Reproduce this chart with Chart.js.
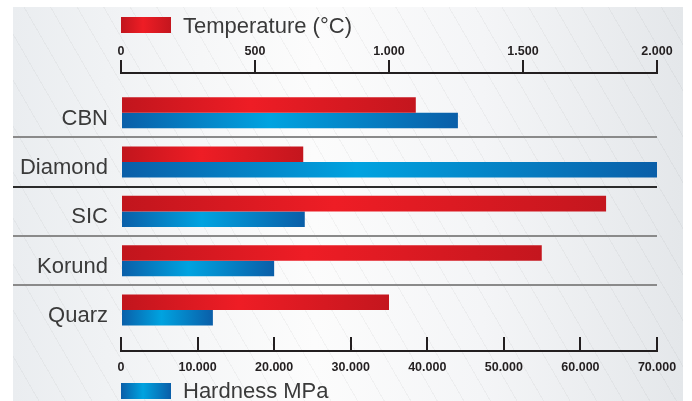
<!DOCTYPE html>
<html>
<head>
<meta charset="utf-8">
<title>Temperature and hardness</title>
<script src="https://cdn.jsdelivr.net/npm/chart.js@4.4.1/dist/chart.umd.min.js"></script>
<style>
  html, body { margin: 0; padding: 0; background: #fff; }
  #wrap { position: relative; width: 692px; height: 401px; overflow: hidden; }
  #bg {
    position: absolute; left: 13px; top: 7px; width: 670px; height: 394px;
    background:
      repeating-linear-gradient(60deg, rgba(0,0,0,0) 0 22px, rgba(0,0,0,0.035) 22px 23px),
      linear-gradient(90deg, #eaedf0 0%, #f6f7f8 28%, #fcfcfc 45%, #f4f5f7 70%, #e4e7ea 100%);
  }
  #box { position: absolute; left: 0; top: 0; width: 692px; height: 401px; }
</style>
</head>
<body>
<div id="wrap">
  <div id="bg"></div>
  <div id="box"><canvas id="hardnessChart"></canvas></div>
</div>
<script>
const categories = ['CBN', 'Diamond', 'SIC', 'Korund', 'Quarz'];
const temperature = [1100, 680, 1810, 1570, 1000];
const hardness = [44000, 70000, 24000, 20000, 12000];
const tempTicks = [0, 500, 1000, 1500, 2000];
const hardTicks = [0, 10000, 20000, 30000, 40000, 50000, 60000, 70000];

const redStops = ['#c1151d', '#ee1d25', '#c4161e'];
const blueStops = ['#0a5ea8', '#00a3e0', '#0a5ea8'];

const tickFont = { family: "'Liberation Sans', Arial, sans-serif", size: 12.5, weight: 'bold' };
const labelFamily = "'Liberation Sans', Arial, sans-serif";
const ink = '#231f20';

// 1000 -> "1.000"
function fmt(v) {
  return String(v).replace(/\B(?=(\d{3})+(?!\d))/g, '.');
}

function barFill(ctx, stops) {
  const chart = ctx.chart;
  if (!chart.chartArea || !ctx.parsed) return stops[1];
  const scale = chart.scales[ctx.dataset.xAxisID];
  const x0 = scale.getPixelForValue(0);
  const x1 = scale.getPixelForValue(ctx.parsed.x);
  const g = chart.ctx.createLinearGradient(x0, 0, x1, 0);
  g.addColorStop(0, stops[0]);
  g.addColorStop(0.44, stops[1]);
  g.addColorStop(1, stops[2]);
  return g;
}

// x axes: fixed height, no extra room for edge labels
function fitX(height) {
  return s => {
    s.height = height;
    s.paddingLeft = 0;
    s.paddingRight = 0;
  };
}

const separators = {
  id: 'separators',
  beforeDatasetsDraw(chart) {
    const { ctx, scales: { y, xT } } = chart;
    ctx.save();
    ctx.lineWidth = 2;
    for (let i = 0; i < categories.length - 1; i++) {
      const py = Math.round(y.getPixelForValue(i + 0.5));
      ctx.strokeStyle = i === 1 ? '#2b2b2b' : '#8a8a8a';
      ctx.beginPath();
      ctx.moveTo(13, py);
      ctx.lineTo(xT.right, py);
      ctx.stroke();
    }
    ctx.restore();
  }
};

function drawKey(ctx, x, y, stops, text, baseline) {
  const g = ctx.createLinearGradient(x, 0, x + 50, 0);
  g.addColorStop(0, stops[0]);
  g.addColorStop(0.44, stops[1]);
  g.addColorStop(1, stops[2]);
  ctx.fillStyle = g;
  ctx.fillRect(x, y, 50, 16);
  ctx.fillStyle = '#3a3a3a';
  ctx.font = '22px ' + labelFamily;
  ctx.textAlign = 'left';
  ctx.textBaseline = 'alphabetic';
  ctx.fillText(text, x + 62, baseline);
}

const keys = {
  id: 'keys',
  afterDraw(chart) {
    const { ctx, scales: { xT } } = chart;
    ctx.save();
    drawKey(ctx, xT.left, 17, redStops, 'Temperature (°C)', 33);
    drawKey(ctx, xT.left, 383, blueStops, 'Hardness MPa', 398);
    ctx.restore();
  }
};

new Chart(document.getElementById('hardnessChart'), {
  type: 'bar',
  data: {
    datasets: [
      {
        label: 'Temperature (°C)',
        data: temperature.map((v, i) => ({ x: v, y: i })),
        xAxisID: 'xT',
        backgroundColor: ctx => barFill(ctx, redStops)
      },
      {
        label: 'Hardness MPa',
        data: hardness.map((v, i) => ({ x: v, y: i })),
        xAxisID: 'xH',
        backgroundColor: ctx => barFill(ctx, blueStops)
      }
    ]
  },
  options: {
    indexAxis: 'y',
    responsive: true,
    maintainAspectRatio: false,
    animation: false,
    barPercentage: 1,
    categoryPercentage: 0.63,
    layout: { padding: { top: 40, right: 35, bottom: 20, left: 0 } },
    plugins: { legend: { display: false }, tooltip: { enabled: false } },
    scales: {
      xT: {
        type: 'linear', position: 'top', min: 0, max: 2000,
        afterBuildTicks: s => { s.ticks = tempTicks.map(v => ({ value: v })); },
        afterFit: fitX(33),
        grid: { drawOnChartArea: false, tickLength: 13, color: ink, lineWidth: 2 },
        border: { color: ink, width: 2 },
        ticks: { padding: 1, font: tickFont, color: ink, maxRotation: 0, autoSkip: false, callback: fmt }
      },
      xH: {
        type: 'linear', position: 'bottom', min: 0, max: 70000,
        afterBuildTicks: s => { s.ticks = hardTicks.map(v => ({ value: v })); },
        afterFit: fitX(30),
        grid: { drawOnChartArea: false, tickLength: -14, color: ink, lineWidth: 2 },
        border: { color: ink, width: 2 },
        ticks: { padding: 23, font: tickFont, color: ink, maxRotation: 0, autoSkip: false, callback: fmt }
      },
      y: {
        type: 'linear', reverse: true, offset: false, min: -0.805, max: 4.83,
        afterBuildTicks: s => { s.ticks = categories.map((c, i) => ({ value: i })); },
        afterFit: s => { s.width = 121; },
        grid: { display: false, drawTicks: false, offset: false },
        border: { display: false },
        ticks: { padding: 13, labelOffset: 6, font: { family: labelFamily, size: 22 }, color: '#3a3a3a', callback: v => categories[v] }
      }
    }
  },
  plugins: [separators, keys]
});
</script>
</body>
</html>
